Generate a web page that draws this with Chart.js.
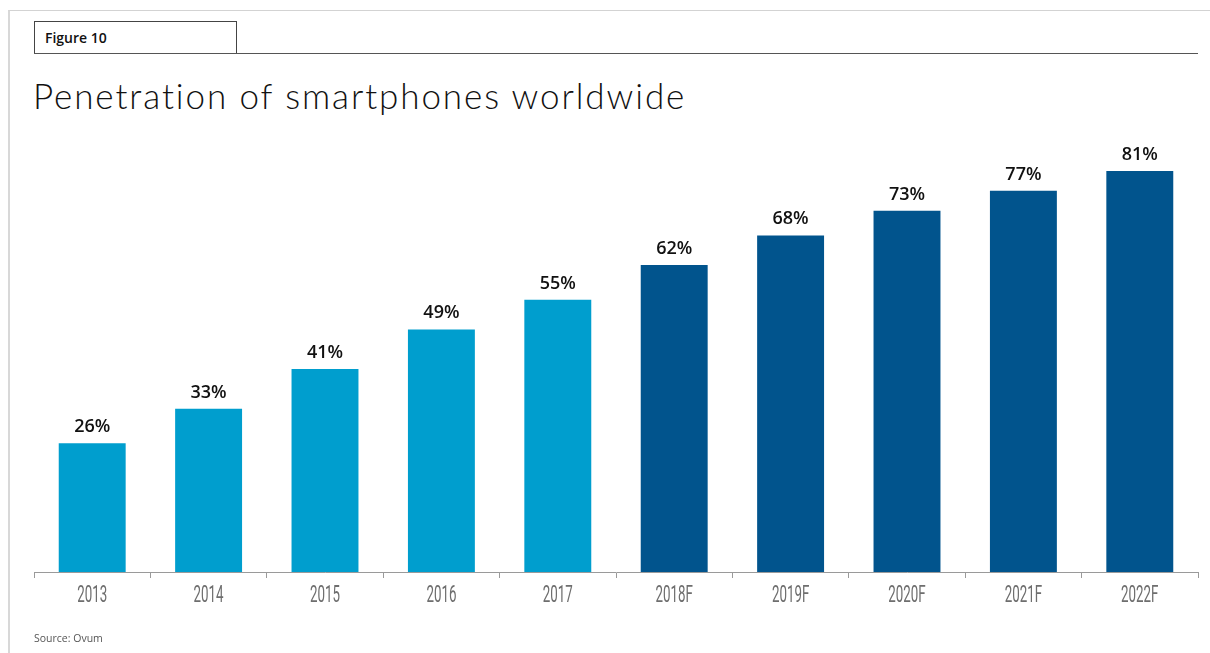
<!DOCTYPE html>
<html>
<head>
<meta charset="utf-8">
<script src="https://cdn.jsdelivr.net/npm/chart.js@4"></script>
<style>
  html, body {
    margin: 0;
    padding: 0;
    background: #fff;
    width: 1210px;
    height: 653px;
    overflow: hidden;
  }
  .frame {
    position: absolute;
    left: 8px;
    top: 10px;
    right: 0;
    bottom: 0;
    border-top: 1px solid #d3d3d3;
    border-left: 2px solid #d8d8d8;
  }
  .fig-tab {
    position: absolute;
    left: 34px;
    top: 21px;
    width: 203px;
    height: 32px;
    border: 1px solid #444;
    border-bottom: none;
    font-family: "Open Sans", "Noto Sans", sans-serif;
    font-weight: 600;
    font-size: 14px;
    line-height: 32px;
    padding-left: 10px;
    box-sizing: border-box;
    color: #111;
  }
  .fig-rule {
    position: absolute;
    left: 34px;
    top: 53px;
    width: 1164px;
    height: 0;
    border-top: 1px solid #555;
  }
  .title {
    position: absolute;
    left: 33px;
    top: 74px;
    font-family: Lato, "Open Sans", sans-serif;
    font-weight: 300;
    font-size: 35px;
    letter-spacing: 1.9px;
    color: #111;
    white-space: nowrap;
  }
  .source {
    position: absolute;
    left: 34px;
    top: 631px;
    font-family: "Open Sans", "Noto Sans", sans-serif;
    font-size: 10.5px;
    color: #555;
  }
  #chart {
    position: absolute;
    left: 0;
    top: 0;
  }
</style>
</head>
<body>
<div class="frame"></div>
<div class="fig-tab">Figure 10</div>
<div class="fig-rule"></div>
<div class="title">Penetration of smartphones worldwide</div>
<canvas id="chart" width="1210" height="653"></canvas>
<div class="source">Source: Ovum</div>

<script>
const years = ["2013", "2014", "2015", "2016", "2017", "2018F", "2019F", "2020F", "2021F", "2022F"];
const penetration = [26, 33, 41, 49, 55, 62, 68, 73, 77, 81];
const isForecast = [false, false, false, false, false, true, true, true, true, true];

const ACTUAL_COLOR = "#009ECE";
const FORECAST_COLOR = "#01548D";

// percentage text above each bar
const barLabels = {
  id: "barLabels",
  afterDatasetsDraw(chart) {
    const { ctx } = chart;
    const meta = chart.getDatasetMeta(0);
    ctx.save();
    ctx.font = "600 18px 'Open Sans', 'Noto Sans', sans-serif";
    ctx.fillStyle = "#111";
    ctx.textAlign = "center";
    ctx.textBaseline = "alphabetic";
    meta.data.forEach((bar, i) => {
      ctx.fillText(penetration[i] + "%", bar.x, bar.y - 11);
    });
    ctx.restore();
  },
};

// condensed year labels under the axis, squeezed horizontally
const condensedTicks = {
  id: "condensedTicks",
  afterDraw(chart) {
    const { ctx } = chart;
    const xScale = chart.scales.x;
    const squeeze = 0.58;
    ctx.save();
    ctx.font = "400 23px Roboto, 'DejaVu Sans', sans-serif";
    ctx.fillStyle = "#6e6e6e";
    ctx.textAlign = "center";
    ctx.textBaseline = "alphabetic";
    ctx.scale(squeeze, 1);
    xScale.ticks.forEach((tick, i) => {
      const x = xScale.getPixelForTick(i);
      ctx.fillText(years[i], x / squeeze, xScale.top + 30);
    });
    ctx.restore();
  },
};

new Chart(document.getElementById("chart"), {
  type: "bar",
  data: {
    labels: years,
    datasets: [
      {
        data: penetration,
        backgroundColor: isForecast.map((f) => (f ? FORECAST_COLOR : ACTUAL_COLOR)),
        categoryPercentage: 1,
        barPercentage: 0.575,
      },
    ],
  },
  options: {
    responsive: false,
    animation: false,
    events: [],
    layout: {
      padding: { left: 34, right: 12, top: 77, bottom: 33 },
    },
    plugins: {
      legend: { display: false },
      tooltip: { enabled: false },
    },
    scales: {
      x: {
        afterFit: (scale) => {
          scale.height = 48;
        },
        border: { color: "#9a9a9a", width: 1 },
        grid: {
          offset: true,
          drawOnChartArea: false,
          tickLength: 6,
          color: "#9a9a9a",
        },
        ticks: {
          padding: 4,
          color: "rgba(0,0,0,0)",
          font: { size: 19 },
        },
      },
      y: {
        display: false,
        min: 0,
        max: 100,
      },
    },
  },
  plugins: [barLabels, condensedTicks],
});
</script>
</body>
</html>
